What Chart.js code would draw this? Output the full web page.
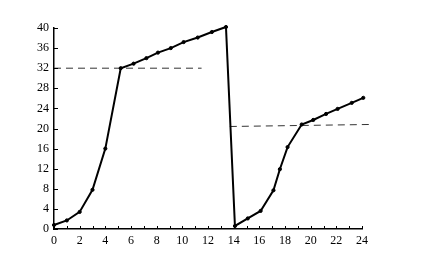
<!DOCTYPE html>
<html>
<head>
<meta charset="utf-8">
<script src="https://cdn.jsdelivr.net/npm/chart.js@4"></script>
<style>
  html, body { margin: 0; padding: 0; background: #fff; }
  #wrap { width: 448px; height: 259px; }
</style>
</head>
<body>
<div id="wrap"><canvas id="chart" width="448" height="259"></canvas></div>
<script>
// Curve
const xValues = [0, 1, 2, 3, 4, 5.2, 6.2, 7.2, 8.1, 9.1, 10.1, 11.2, 12.3, 13.4,
                 14.1, 15.1, 16.1, 17.1, 17.6, 18.2, 19.3, 20.2, 21.2, 22.1, 23.2, 24.1];
const yValues = [0.8, 1.7, 3.4, 7.8, 16, 32, 32.9, 34, 35.1, 36, 37.2, 38.1, 39.2, 40.2,
                 0.6, 2.1, 3.6, 7.7, 11.9, 16.3, 20.8, 21.7, 22.9, 23.9, 25.1, 26.1];

// Dashed reference lines
const dash1X = [0, 11.5];
const dash1Y = [32, 32];
const dash2X = [13.7, 24.6];
const dash2Y = [20.4, 20.8];

const xTicks = [0, 2, 4, 6, 8, 10, 12, 14, 16, 18, 20, 22, 24];
const yTicks = [0, 4, 8, 12, 16, 20, 24, 28, 32, 36, 40];

const toPoints = (xs, ys) => xs.map((x, i) => ({ x: x, y: ys[i] }));

// small tick marks pointing into the plot
const innerTicks = {
    id: 'innerTicks',
    afterDraw(chart) {
        const ctx = chart.ctx;
        const xs = chart.scales.x;
        const ys = chart.scales.y;
        const area = chart.chartArea;
        ctx.save();
        ctx.strokeStyle = '#000';
        ctx.lineWidth = 1;
        ctx.beginPath();
        for (let v = 0; v <= 24; v++) {
            const px = Math.round(xs.getPixelForValue(v)) + 0.5;
            ctx.moveTo(px, area.bottom);
            ctx.lineTo(px, area.bottom - 3);
        }
        yTicks.forEach(v => {
            const py = Math.round(ys.getPixelForValue(v)) + 0.5;
            ctx.moveTo(area.left, py);
            ctx.lineTo(area.left + 4, py);
        });
        ctx.stroke();
        ctx.restore();
    }
};

const font = { family: 'Liberation Serif', size: 12 };

new Chart(document.getElementById('chart'), {
    type: 'scatter',
    data: {
        datasets: [
            {
                data: toPoints(xValues, yValues),
                showLine: true,
                borderColor: '#000',
                backgroundColor: '#000',
                borderWidth: 2,
                pointRadius: 1.6,
                pointBorderWidth: 1,
                tension: 0,
                clip: false
            },
            {
                data: toPoints(dash1X, dash1Y),
                showLine: true,
                borderColor: '#333',
                borderWidth: 1,
                borderDash: [7, 5],
                pointRadius: 0,
                clip: false
            },
            {
                data: toPoints(dash2X, dash2Y),
                showLine: true,
                borderColor: '#333',
                borderWidth: 1,
                borderDash: [7, 5],
                pointRadius: 0,
                clip: false
            }
        ]
    },
    options: {
        responsive: false,
        animation: false,
        layout: { padding: { left: 0, right: 86, top: 28, bottom: 0 } },
        plugins: { legend: { display: false }, tooltip: { enabled: false } },
        scales: {
            x: {
                type: 'linear',
                min: 0,
                max: 24,
                afterBuildTicks: scale => { scale.ticks = xTicks.map(v => ({ value: v })); },
                afterFit: scale => { scale.height = 30; },
                grid: { display: true, drawOnChartArea: false, drawTicks: false },
                border: { display: true, color: '#000', width: 1.5 },
                ticks: { color: '#000', font: font, padding: 5, maxRotation: 0, autoSkip: false }
            },
            y: {
                type: 'linear',
                min: 0,
                max: 40,
                afterBuildTicks: scale => { scale.ticks = yTicks.map(v => ({ value: v })); },
                afterFit: scale => { scale.width = 54; },
                grid: { display: true, drawOnChartArea: false, drawTicks: false },
                border: { display: true, color: '#000', width: 1.5 },
                ticks: { color: '#000', font: font, padding: 5 }
            }
        }
    },
    plugins: [innerTicks]
});
</script>
</body>
</html>
